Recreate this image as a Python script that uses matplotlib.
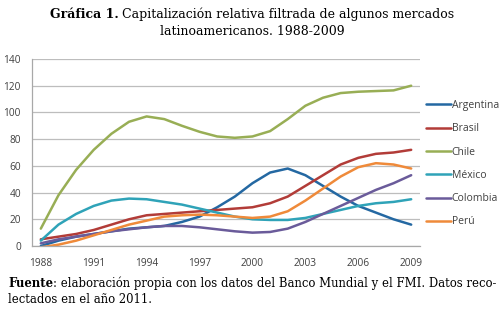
import matplotlib
matplotlib.use("Agg")
import matplotlib.pyplot as plt
import numpy as np

years = list(range(1988, 2010))
argentina = [0, 4, 7, 9, 11, 13, 14, 15, 18, 22, 29, 37, 47, 55, 58, 53, 45, 37, 30, 25, 20, 16]
brasil = [5, 7, 9, 12, 16, 20, 23, 24, 25, 26, 27, 28, 29, 32, 37, 45, 53, 61, 66, 69, 70, 72]
chile = [13, 38, 57, 72, 84, 93, 97, 95, 90, 85.5, 82, 81, 82, 86, 95, 105, 111, 114.5, 115.5, 116, 116.5, 120]
mexico = [4, 16, 24, 30, 34, 35.5, 35, 33, 31, 28, 25, 22, 20, 19.5, 19.5, 21, 24, 27, 30, 32, 33, 35]
colombia = [2, 5, 7, 9, 11, 12.5, 14, 15, 15, 14, 12.5, 11, 10, 10.5, 13, 18, 24, 30, 36, 42, 47, 53]
peru = [-1, 1, 4, 8, 12, 16, 19, 22, 23, 23.5, 23, 22, 21, 22, 26, 34, 43, 52, 59, 62, 61, 58]

series = [("Argentina", argentina, "#2468a2"),
          ("Brasil", brasil, "#b23c38"),
          ("Chile", chile, "#98ae55"),
          ("México", mexico, "#2fa3b8"),
          ("Colombia", colombia, "#6a5b9a"),
          ("Perú", peru, "#ef8a3a")]

W, H = 504, 328
fig = plt.figure(figsize=(W / 100, H / 100), dpi=100)
ax = fig.add_axes([32 / W, 1 - 246 / H, 388 / W, 187 / H])

for name, vals, col in series:
    ax.plot(years, vals, color=col, lw=1.8, label=name, solid_capstyle="round")

ax.set_xlim(1987.5, 2009.5)
ax.set_ylim(0, 140)
ax.set_xticks(range(1988, 2010, 3))
ax.set_yticks(range(0, 141, 20))
ax.yaxis.grid(True, color="#bdbdbd", lw=0.9)
ax.set_axisbelow(True)
for s in ["top", "right"]:
    ax.spines[s].set_visible(False)
for s in ["left", "bottom"]:
    ax.spines[s].set_color("#a8a8a8")
    ax.spines[s].set_linewidth(0.9)
ax.tick_params(length=0, labelsize=7.3, labelcolor="#404040")
ax.tick_params(axis="y", pad=8)
ax.tick_params(axis="x", pad=9)
for lab in ax.get_xticklabels() + ax.get_yticklabels():
    lab.set_fontfamily("Open Sans")

leg = ax.legend(loc="upper left", bbox_to_anchor=(426 / W, 1 - 100 / H),
                bbox_transform=fig.transFigure, frameon=False,
                prop={"family": "Open Sans", "size": 7.5},
                handlelength=2.4, handletextpad=0.05, labelspacing=1.18,
                borderaxespad=0, borderpad=0)
for t in leg.get_texts():
    t.set_color("#404040")

renderer = fig.canvas.get_renderer()
SERIF = "DejaVu Serif"


def mixed_line(bold, rest, x, y, size, align="left"):
    # bold + regular text on one baseline, x/y in pixels from top-left
    fy = 1 - y / H
    tb = fig.text(0, fy, bold, fontsize=size, fontweight="bold",
                  family=SERIF, va="baseline")
    tr = fig.text(0, fy, rest, fontsize=size, family=SERIF, va="baseline")
    wb = tb.get_window_extent(renderer).width
    wr = tr.get_window_extent(renderer).width
    x0 = x - (wb + wr) / 2 if align == "center" else x
    tb.set_x(x0 / W)
    tr.set_x((x0 + wb) / W)


mixed_line("Gráfica 1.", " Capitalización relativa filtrada de algunos mercados",
           252, 18, 9.0, align="center")
fig.text(252 / W, 1 - 35 / H, "latinoamericanos. 1988-2009", fontsize=9.0,
         family=SERIF, ha="center", va="baseline")

mixed_line("Fuente", ": elaboración propia con los datos del Banco Mundial y el FMI. Datos reco-",
           8, 287, 8.4)
fig.text(8 / W, 1 - 303 / H, "lectados en el año 2011.", fontsize=8.4,
         family=SERIF, va="baseline")

fig.savefig("out.png", dpi=100)
